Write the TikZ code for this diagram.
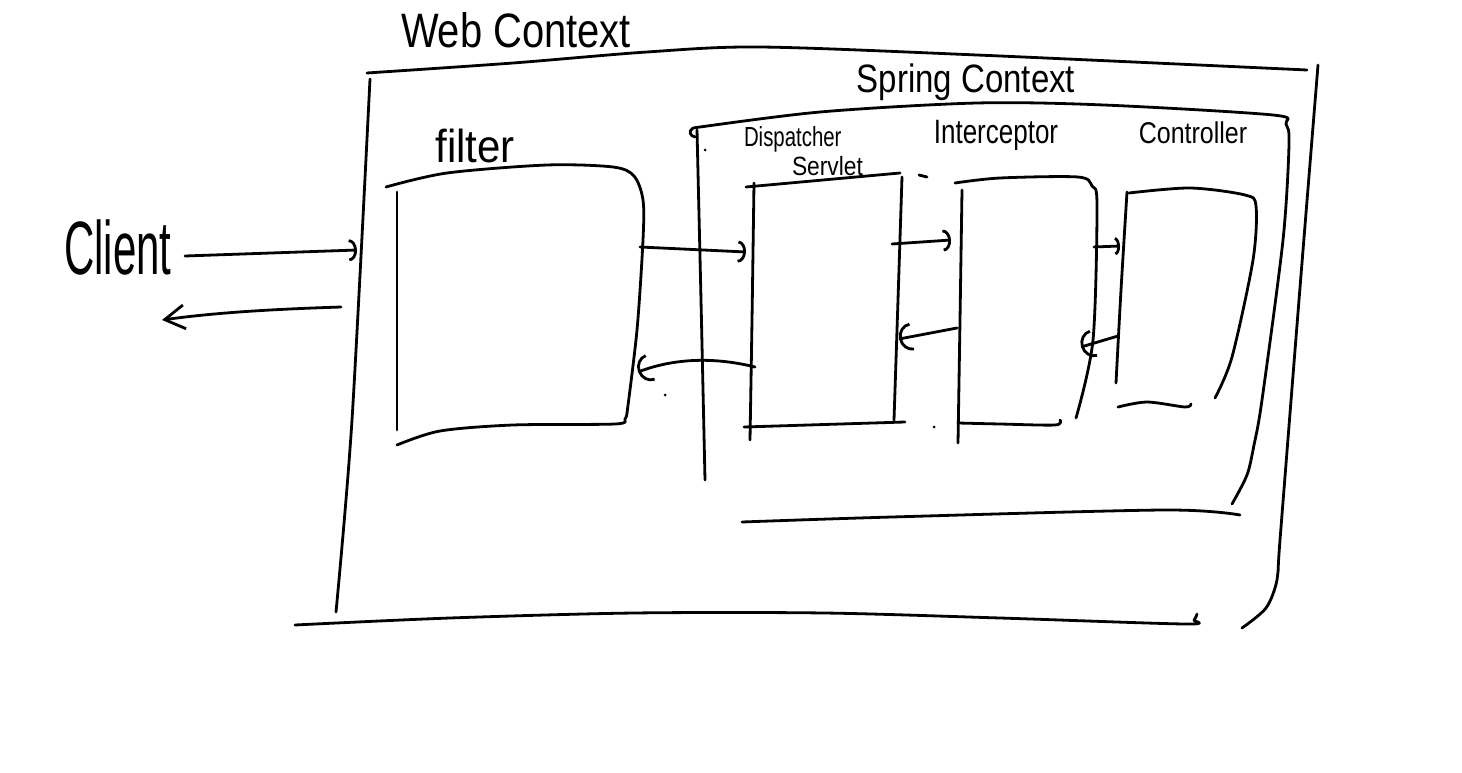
\documentclass[tikz,border=0pt]{standalone}
\usepackage{fontspec}
\setmainfont{Liberation Sans}
\usetikzlibrary{arrows.meta}
\begin{document}
\begin{tikzpicture}[x=1pt,y=-1pt,
  pen/.style={line width=2.8pt,line cap=round,line join=round},
  lbl/.style={inner sep=0pt,outer sep=0pt},
  curl/.style={pen,-{Arc Barb[length=8pt,width=22pt]}},
  back/.style={pen,-{Arc Barb[length=13pt,width=28pt]}},
  barb/.style={pen,-{Straight Barb[length=20pt,width=24pt]}}]
\fill[white] (0,0) rectangle (1462,773);
\useasboundingbox (0,0) rectangle (1462,773);

% ---------- labels ----------
\node[lbl] (web) at (516,30) {\scalebox{0.95}[1.15]{\fontsize{42}{48}\selectfont Web Context}};
\node[lbl] (spring) at (966,82) {\scalebox{1}[1.2]{\fontsize{33}{38}\selectfont Spring Context}};
\node[lbl] (filter) at (475,146) {\scalebox{1}[1.1]{\fontsize{42}{48}\selectfont filter}};
\node[lbl] (client) at (118,247) {\scalebox{0.75}[1.35]{\fontsize{56}{60}\selectfont Client}};
\node[lbl,anchor=west] (disp) at (744,139) {\scalebox{0.85}[1.15]{\fontsize{24}{28}\selectfont Dispatcher}};
\node[lbl,anchor=west] (serv) at (792,166) {\scalebox{0.95}[1.1]{\fontsize{24}{28}\selectfont Servlet}};
\node[lbl] (inter) at (996,135) {\scalebox{1}[1.3]{\fontsize{26}{30}\selectfont Interceptor}};
\node[lbl] (ctrl) at (1193,133) {\scalebox{1}[1.2]{\fontsize{25}{30}\selectfont Controller}};

% ---------- Web Context frame ----------
\draw[pen] plot[smooth] coordinates {(367,73) (513,63) (647,52) (760,47) (977,55) (1307,70)};
\draw[pen] plot[smooth] coordinates {(370,79) (352,420) (336,612)};
\draw[pen] plot[smooth] coordinates {(295,625) (450,618) (634,613) (824,613) (1000,618) (1185,624) (1194,620) (1197,614)};
\draw[pen] plot[smooth] coordinates {(1318,65) (1299,300) (1280,540) (1277,580) (1266,608) (1242,628)};

% ---------- Spring Context frame ----------
\draw[pen] plot[smooth] coordinates {(693,128) (820,112) (977,103) (1104,105) (1273,115) (1286,124) (1289,145) (1283,240) (1262,400) (1254,445) (1247,475) (1232,504)};
\draw[pen] (693,128) .. controls (688,131) and (690,136) .. (695,137);
\draw[pen] plot[smooth] coordinates {(697,130) (701,300) (705,480)};
\draw[pen] plot[smooth] coordinates {(742,522) (892,517) (1164,510) (1240,515)};
\fill (705,150) circle (1.5pt);

% ---------- filter box ----------
\draw[pen] plot[smooth] coordinates {(386,187) (447,173) (547,165) (613,167) (634,176) (643,200) (643,240) (637,330) (627,413)};
\draw[pen] plot[smooth] coordinates {(397,445) (440,431) (513,425) (615,424) (625,419) (627,413)};
\draw[pen] (397,192) -- (397,430);

% ---------- Dispatcher Servlet box ----------
\draw[pen] plot[smooth] coordinates {(754,183) (752,320) (750,440)};
\draw[pen] (746,187) -- (900,173);
\draw[pen] plot[smooth] coordinates {(902,177) (898,300) (894,420)};
\draw[pen] (744,427) -- (905,422);
\draw[pen] (919,175) -- (927,177);
\fill (934,427) circle (1.5pt);

% ---------- Interceptor box ----------
\draw[pen] plot[smooth] coordinates {(962,190) (960,320) (958,443)};
\draw[pen] plot[smooth] coordinates {(955,183) (1000,178) (1078,177) (1092,186) (1097,205) (1093,340) (1076,418)};
\draw[pen] plot[smooth] coordinates {(958,423) (1000,424) (1055,425) (1060,420)};

% ---------- Controller box ----------
\draw[pen] plot[smooth] coordinates {(1127,192) (1121,290) (1116,383)};
\draw[pen] plot[smooth] coordinates {(1129,193) (1190,188) (1245,195) (1256,206) (1253,260) (1232,357) (1215,398)};
\draw[pen] plot[smooth] coordinates {(1118,407) (1147,402) (1185,407) (1191,404)};

% ---------- connector end points ----------
\coordinate (a1s) at (185,256);  \coordinate (a1e) at (357,250);
\coordinate (a2s) at (341,307);  \coordinate (a2e) at (162,320);
\coordinate (a3s) at (640,247);  \coordinate (a3e) at (746,252);
\coordinate (a4s) at (755,367);  \coordinate (a4e) at (638,372);
\coordinate (a5s) at (892,244);  \coordinate (a5e) at (951,240);
\coordinate (a6s) at (957,328);  \coordinate (a6e) at (899,339);
\coordinate (a7s) at (1094,247); \coordinate (a7e) at (1120,246);
\coordinate (a8s) at (1118,336); \coordinate (a8e) at (1081,347);

% ---------- connectors ----------
\draw[curl] (a1s) -- (a1e);
\draw[barb] (a2s) .. controls (280,309) and (220,312) .. (a2e);
\draw[curl] (a3s) -- (a3e);
\draw[back] (a4s) .. controls (715,357) and (675,358) .. (a4e);
\draw[curl] (a5s) -- (a5e);
\draw[back] (a6s) -- (a6e);
\draw[pen,-{Arc Barb[length=5pt,width=18pt]}] (a7s) -- (a7e);
\draw[back] (a8s) -- (a8e);
\fill (665,395) circle (1.5pt);
\end{tikzpicture}
\end{document}
